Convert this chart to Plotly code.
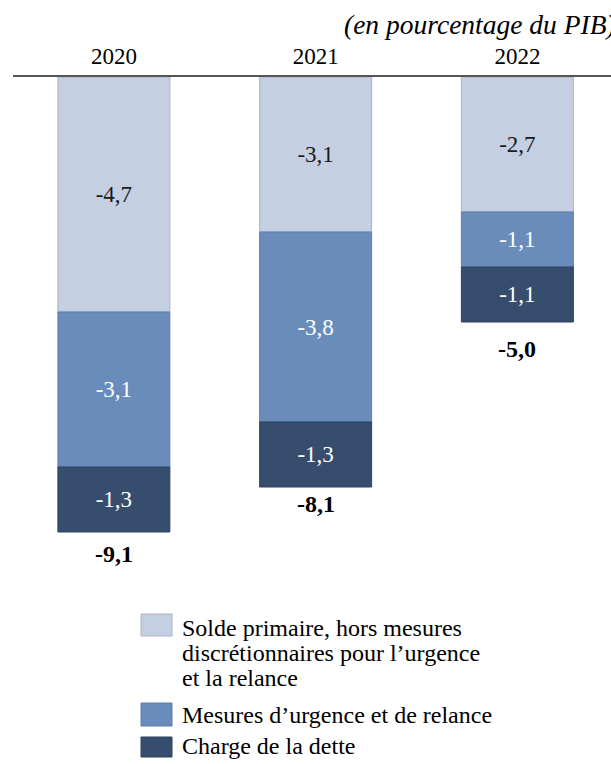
import plotly.graph_objects as go

years = ["2020", "2021", "2022"]
solde_primaire = [-4.7, -3.1, -2.7]
mesures_urgence = [-3.1, -3.8, -1.1]
charge_dette = [-1.3, -1.3, -1.1]
totals = [-9.1, -8.1, -5.0]
legend_lines = [
    ["Solde primaire, hors mesures", "discrétionnaires pour l’urgence", "et la relance"],
    ["Mesures d’urgence et de relance"],
    ["Charge de la dette"],
]
title_text = "(en pourcentage du PIB)"

colors = ["#C5CFE2", "#6A8CBB", "#374D6D"]
edge_colors = ["#A8B2C4", "#5F7FAA", "#2F4260"]
text_colors = ["#1a1a1a", "white", "white"]
FONT = '"Liberation Serif", serif'
FS = 23

W, H = 611, 764
ML, MR, MT, MB = 13, 0, 77, 187
PW, PH = W - ML - MR, H - MT - MB


def fr(v):
    return f"{v:.1f}".replace(".", ",")


def pxx(p):
    return (p - ML) / PW


def pyy(p):
    return (MT + PH - p) / PH


fig = go.Figure()
series = [solde_primaire, mesures_urgence, charge_dette]
for i, vals in enumerate(series):
    fig.add_trace(go.Bar(
        x=years, y=vals, width=0.555,
        name=" ".join(legend_lines[i]),
        marker=dict(color=colors[i], line=dict(color=edge_colors[i], width=1)),
        text=[fr(v) for v in vals],
        textposition="inside", insidetextanchor="middle", textangle=0,
        textfont=dict(family=FONT, size=FS, color=text_colors[i]),
        showlegend=False,
    ))

annotations = []
for idx, t in enumerate(totals):
    annotations.append(dict(x=idx, y=t, xref="x", yref="y", text=f"<b>{fr(t)}</b>",
                            showarrow=False, yshift=-22, yanchor="middle",
                            font=dict(family=FONT, size=24, color="black")))

annotations.append(dict(x=pxx(342), y=pyy(25), xref="paper", yref="paper", xanchor="left",
                        yanchor="middle", text=f"<i>{title_text}</i>", showarrow=False,
                        font=dict(family=FONT, size=27.5, color="black")))

shapes = []
swatches = [(614, 636), (703, 726), (737, 757)]
text_centers = [[628, 653, 678], [715], [746]]
for i in range(3):
    y0, y1 = swatches[i]
    shapes.append(dict(type="rect", xref="paper", yref="paper",
                       x0=pxx(141), x1=pxx(172), y0=pyy(y1), y1=pyy(y0),
                       fillcolor=colors[i], line=dict(color=edge_colors[i], width=1)))
    for line, cy in zip(legend_lines[i], text_centers[i]):
        annotations.append(dict(x=pxx(180), y=pyy(cy), xref="paper", yref="paper",
                                xanchor="left", yanchor="middle", text=line, showarrow=False,
                                font=dict(family=FONT, size=24, color="black")))

fig.update_layout(
    width=W, height=H, barmode="relative",
    margin=dict(l=ML, r=MR, t=MT, b=MB),
    paper_bgcolor="white", plot_bgcolor="white",
    font=dict(family=FONT, size=FS, color="black"),
    uniformtext=dict(mode=False),
    xaxis=dict(type="category", side="top", range=[-0.5, -0.5 + PW / 201.75],
               showline=True, linecolor="#555555", linewidth=1.5, ticks="",
               showgrid=False, tickfont=dict(family=FONT, size=FS, color="black"),
               ticklabelstandoff=2),
    yaxis=dict(range=[-10, 0], visible=False, showgrid=False, zeroline=False),
    annotations=annotations, shapes=shapes,
)

fig.write_html("out.html")
